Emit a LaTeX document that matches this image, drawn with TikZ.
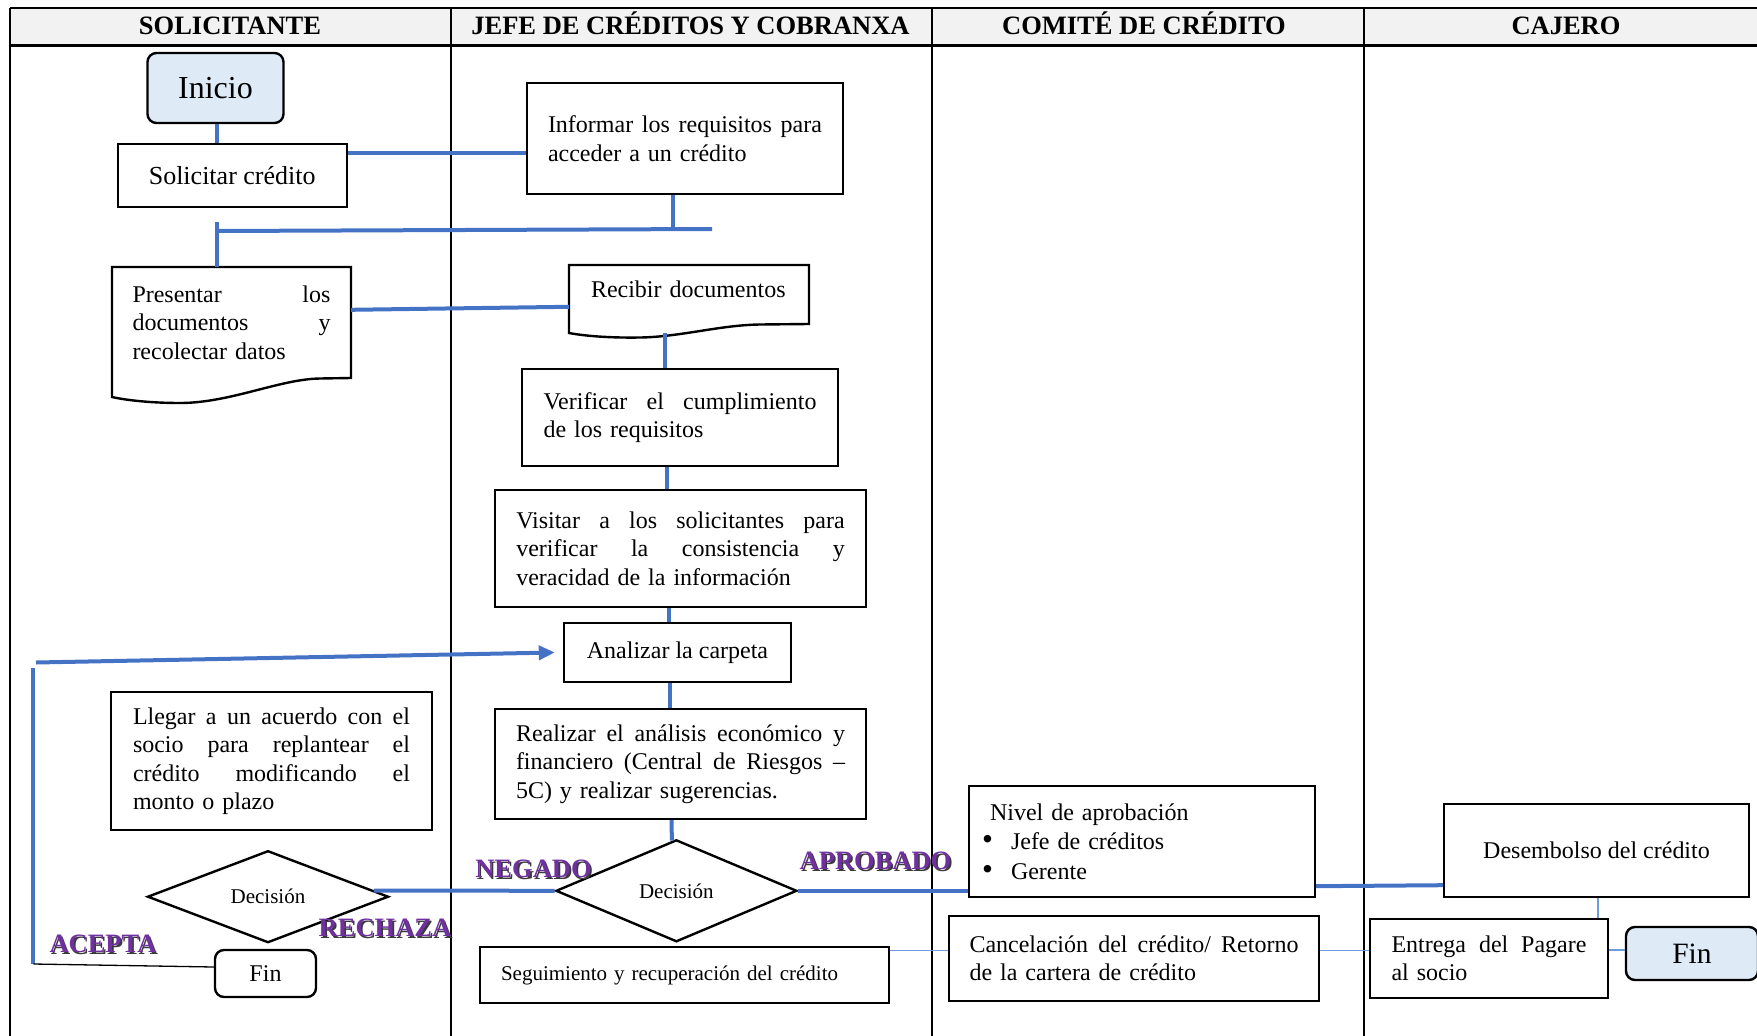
\documentclass[tikz,border=0pt]{standalone}
\usepackage{fontspec}
\usepackage{graphicx}
\setmainfont{Liberation Serif}
\usetikzlibrary{shapes.geometric,arrows.meta,calc}

\definecolor{lineblue}{HTML}{4472C4}
\definecolor{thinblue}{HTML}{6E9BDC}
\definecolor{startfill}{HTML}{DEEBF7}
\definecolor{headfill}{HTML}{F2F2F2}
\definecolor{wordpurple}{HTML}{7030A0}
\definecolor{wordshadow}{HTML}{3B3B3B}

% word gap of a fully justified line
\newcommand{\jg}{\hfill}
% purple label with a dark drop shadow
\newcommand{\wordart}[1]{\rlap{\kern1.6pt\raisebox{-1.6pt}{\textcolor{wordshadow}{#1}}}\textcolor{wordpurple}{#1}}
\newcommand{\fs}[2]{\fontsize{#1}{#2}\selectfont}
\newcommand{\bulletitem}{\hspace*{-8pt}\makebox[29pt][l]{\scalebox{1.3}{•}}}

\begin{document}
\begin{tikzpicture}[x=1pt,y=-1pt,
  font=\fs{24}{28.5},
  procbox/.style={draw, line width=2.4pt, fill=white, inner sep=0pt, align=left},
  startbox/.style={draw, line width=2.4pt, rounded corners=9pt, inner sep=0pt},
  decbox/.style={diamond, draw, line width=2.4pt, fill=white, inner sep=0pt},
  docline/.style={draw, line width=2.4pt},
  conn/.style={draw=lineblue, line width=4pt},
  thinconn/.style={draw=thinblue, line width=1.6pt},
  lane/.style={draw=black, line width=2pt},
  head/.style={anchor=base, font=\fs{26.5}{30}\bfseries},
  tag/.style={anchor=base, font=\fs{26.5}{30}\bfseries},
]

\useasboundingbox (0,0) rectangle (1757,1036);

% ---- swimlane table ----
\fill[headfill] (10,8) rectangle (1757,45.7);
\draw[lane] (10,8) -- (1757,8);
\draw[lane, line width=2.6pt] (10,45.7) -- (1757,45.7);
\foreach \x in {10,451,932,1363.5} \draw[lane] (\x,8) -- (\x,1036);

\node[head] (h1) at (230,34.3) {SOLICITANTE};
\node[head] (h2) at (690.5,34.3) {JEFE DE CRÉDITOS Y COBRANXA};
\node[head] (h3) at (1144,34.3) {COMITÉ DE CRÉDITO};
\node[head] (h4) at (1566,34.3) {CAJERO};

% ---- solicitante ----
\node[startbox, fill=startfill, minimum width=136pt, minimum height=70pt, font=\fs{32}{36}] (inicio) at (215.5,88) {Inicio};
\node[procbox, minimum width=229pt, minimum height=63pt, font=\fs{26}{30}] (sol) at (232.2,175.5) {Solicitar crédito};

\node[minimum width=239pt, minimum height=111pt, inner sep=0pt, text width=198pt, align=left] (pres) at (231.5,322.5)
  {Presentar\jg los\\documentos\jg y\\recolectar datos};
\draw[docline] (112,267) -- (351,267) -- (351,378) -- (320,378.5)
  .. controls (280,379) and (230,403) .. (180,403)
  .. controls (150,403) and (125,400) .. (112,397) -- cycle;

\node[procbox, minimum width=321pt, minimum height=138pt, text width=277pt] (acuerdo) at (271.5,761)
  {Llegar\jg a\jg un\jg acuerdo\jg con\jg el\\socio\jg para\jg replantear\jg el\\crédito\jg modificando\jg el\\monto o plazo};

\node[decbox, minimum width=241pt, minimum height=92pt, font=\fs{21}{24}] (ldec) at (268,896.7) {Decisión};
\node[startbox, fill=white, minimum width=101pt, minimum height=47pt] (fin1) at (265.5,973.5) {Fin};

% ---- jefe de creditos ----
\node[procbox, minimum width=316pt, minimum height=111pt, text width=274pt] (inf) at (685,138.5)
  {Informar\jg los\jg requisitos\jg para\\acceder a un crédito};

\node[minimum width=240pt, minimum height=59pt, inner sep=0pt, text width=196pt, align=left, text depth=10pt] (rec) at (689,294.5)
  {Recibir documentos};
\draw[docline] (569,265) -- (809,265) -- (809,324) -- (760,324.5)
  .. controls (720,325) and (680,337) .. (640,337.5)
  .. controls (610,338) and (585,336) .. (569,333) -- cycle;

\node[procbox, minimum width=316pt, minimum height=97pt, text width=273pt] (verif) at (680,417.5)
  {Verificar\jg el\jg cumplimiento\\de los requisitos};
\node[procbox, minimum width=371pt, minimum height=117pt, text width=328.5pt] (visit) at (680.5,548.5)
  {Visitar\jg a\jg los\jg solicitantes\jg para\\verificar\jg la\jg consistencia\jg y\\veracidad de la información};
\node[procbox, minimum width=227pt, minimum height=59pt] (anal) at (677.5,652.5) {Analizar la carpeta};
\node[procbox, minimum width=371pt, minimum height=110pt, text width=329pt] (real) at (680.5,764)
  {Realizar\jg el\jg análisis\jg económico\jg y\\financiero\jg (Central\jg de\jg Riesgos\jg –\\5C) y realizar sugerencias.};
\node[decbox, minimum width=241pt, minimum height=102pt, font=\fs{21}{24}] (rdec) at (676.4,890.8) {Decisión};
\node[procbox, minimum width=409pt, minimum height=56pt, text width=367pt, font=\fs{21}{24}] (seg) at (684.5,975)
  {Seguimiento y recuperación del crédito};

% ---- comite de credito ----
\node[procbox, minimum width=346pt, minimum height=111pt, text width=304pt, font=\fs{24}{29.5}] (niv) at (1142,841.5)
  {Nivel de aprobación\\\bulletitem Jefe de créditos\\\bulletitem Gerente};
\node[procbox, minimum width=370pt, minimum height=85pt, text width=329pt] (canc) at (1134,958.5)
  {Cancelación\jg del\jg crédito/\jg Retorno\\de la cartera de crédito};

% ---- cajero ----
\node[procbox, minimum width=305pt, minimum height=93pt] (des) at (1596.5,850.5) {Desembolso del crédito};
\node[procbox, minimum width=238pt, minimum height=79pt, text width=195pt] (ent) at (1489,958.5)
  {Entrega\jg del\jg Pagare\\al socio};
\node[startbox, fill=startfill, minimum width=132pt, minimum height=53pt, font=\fs{29.5}{33}] (fin2) at (1692,953.5) {Fin};

% ---- connectors ----
\coordinate (jL) at (217,231);
\coordinate (jR) at (712,229);
\coordinate (jT) at (217,222);
\coordinate (loopB) at (33.3,964);
\coordinate (loopT) at (33.3,668);
\coordinate (loopA) at (36,662.5);

\draw[conn] ([xshift=1.5pt]inicio.south) -- ([xshift=1.5pt]inicio.south |- sol.north);
\draw[conn] ([yshift=-10pt]sol.north east) -- ([yshift=-10pt]sol.north east -| inf.west);
\draw[conn] ([xshift=-12pt]inf.south) -- ([xshift=-12pt]inf.south |- jR);
\draw[conn] (jL) -- (jR);
\draw[conn] (jT) -- (jT |- pres.north);
\draw[conn] ([yshift=-43pt]pres.north east) -- ([yshift=-42pt]rec.north west);
\draw[conn] ([xshift=-15pt]verif.north) -- ++(0,-35);
\draw[conn] ([xshift=-13pt]verif.south) -- ([xshift=-13pt]verif.south |- visit.north);
\draw[conn] ([xshift=-11.5pt]visit.south) -- ([xshift=-11.5pt]visit.south |- anal.north);
\draw[conn] ([xshift=-7.5pt]anal.south) -- ([xshift=-7.5pt]anal.south |- real.north);
\draw[conn] ([xshift=-9pt]real.south) -- ([xshift=-4.5pt,yshift=-2pt]rdec.north);
\draw[conn] (rdec.west) -- ($(ldec.east)!0.13!(ldec.north)$);
\draw[conn] (rdec.east) -- (rdec.east -| niv.west);
\draw[conn] ([yshift=12pt]niv.south east) -- ([yshift=13pt]des.south west);

\draw[thinconn] ([xshift=1.5pt]des.south) -- ([xshift=1.5pt]des.south |- ent.north);
\draw[thinconn] ([yshift=-4.7pt]seg.north east) -- ([yshift=-4.7pt]seg.north east -| canc.west);
\draw[thinconn] ([yshift=8pt]canc.east) -- ([yshift=8pt]canc.east -| ent.west);
\draw[thinconn] ([yshift=3.5pt]fin2.west) -- ([yshift=3.5pt]fin2.west -| ent.east);

\draw[conn] (loopB) -- (loopT);
\draw[conn, -{Triangle[length=16pt,width=14pt]}] (loopA) -- ([xshift=-8pt]anal.west);
\draw[black, line width=1.3pt] (loopB) -- ([yshift=6.5pt]fin1.west);

% ---- branch labels ----
\node[tag] (neg) at (533.5,877.5) {\wordart{NEGADO}};
\node[tag] (apr) at (875.5,869.5) {\wordart{APROBADO}};
\node[tag] (rech) at (385,936.5) {\wordart{RECHAZA}};
\node[tag] (acep) at (103,952.5) {\wordart{ACEPTA}};

\end{tikzpicture}
\end{document}
